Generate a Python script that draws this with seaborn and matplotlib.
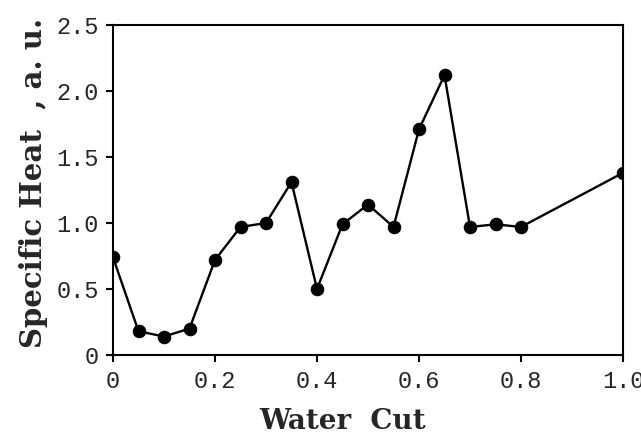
import matplotlib
matplotlib.use("Agg")
import matplotlib.pyplot as plt
import seaborn as sns
import pandas as pd

water_cut = [0.0, 0.05, 0.10, 0.15, 0.20, 0.25, 0.30, 0.35, 0.40, 0.45,
             0.50, 0.55, 0.60, 0.65, 0.70, 0.75, 0.80, 1.00]
specific_heat = [0.74, 0.18, 0.14, 0.20, 0.72, 0.97, 1.00, 1.31, 0.50, 0.99,
                 1.14, 0.97, 1.71, 2.12, 0.97, 0.99, 0.97, 1.38]
x_ticks = [0.0, 0.2, 0.4, 0.6, 0.8, 1.0]
x_tick_labels = ["0", "0.2", "0.4", "0.6", "0.8", "1.0"]
y_ticks = [0.0, 0.5, 1.0, 1.5, 2.0, 2.5]
y_tick_labels = ["0", "0.5", "1.0", "1.5", "2.0", "2.5"]

sns.set_style("white")
df = pd.DataFrame({"Water Cut": water_cut, "Specific Heat": specific_heat})

fig = plt.figure(figsize=(6.41, 4.37), dpi=100)
ax = fig.add_axes([113 / 641, 1 - 355 / 437, 510 / 641, 330 / 437])

sns.lineplot(data=df, x="Water Cut", y="Specific Heat", ax=ax, color="black",
             linewidth=1.7, marker="o", markersize=9, markeredgecolor="black",
             markerfacecolor="black", sort=False)

ax.set_xlim(0, 1.0)
ax.set_ylim(0, 2.5)
ax.set_xticks(x_ticks)
ax.set_xticklabels(x_tick_labels)
ax.set_yticks(y_ticks)
ax.set_yticklabels(y_tick_labels)

for s in ax.spines.values():
    s.set_color("black")
    s.set_linewidth(1.5)

ax.tick_params(axis="both", direction="out", length=5, width=1.5, color="black",
               left=True, bottom=True, labelsize=17)
ax.tick_params(axis="x", pad=6)
ax.tick_params(axis="y", pad=5)
for lab in ax.get_xticklabels() + ax.get_yticklabels():
    lab.set_family("Liberation Mono")

ax.set_xlabel("Water  Cut", fontsize=20, fontweight="bold", family="DejaVu Serif")
ax.set_ylabel("Specific Heat  , a. u.", fontsize=21, fontweight="bold", family="DejaVu Serif")
ax.xaxis.set_label_coords(0.45, -0.16)
ax.yaxis.set_label_coords(-0.128, 0.52)

fig.savefig("out.png", dpi=100)
